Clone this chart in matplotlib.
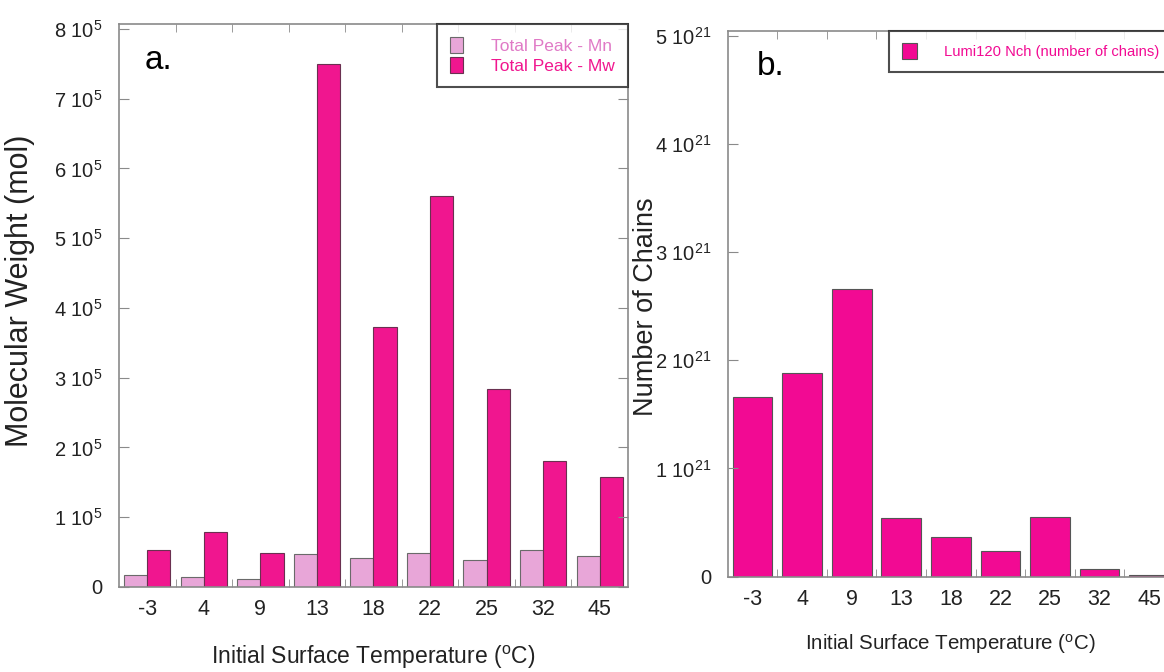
import matplotlib
matplotlib.use('Agg')
import matplotlib.pyplot as plt
import numpy as np
from matplotlib.ticker import FixedLocator, FuncFormatter

plt.rcParams['font.family'] = ['Liberation Sans', 'DejaVu Sans']
plt.rcParams['mathtext.fontset'] = 'custom'
plt.rcParams['mathtext.rm'] = 'Liberation Sans'
plt.rcParams['mathtext.it'] = 'Liberation Sans'

# datos
temps = ['-3', '4', '9', '13', '18', '22', '25', '32', '45']
mn = [17e3, 15e3, 12e3, 47e3, 42e3, 49e3, 38e3, 53e3, 44e3]
mw = [53.5e3, 79e3, 49e3, 750e3, 373e3, 561e3, 284e3, 181e3, 158e3]
nch = [1.66e21, 1.88e21, 2.66e21, 0.545e21, 0.37e21, 0.235e21, 0.555e21, 0.068e21, 0.016e21]

c_mn = '#E8A6D8'
c_mw = '#F0168F'
c_nch = '#F20A93'
gris = '#8a8a8a'

fig = plt.figure(figsize=(11.64, 6.72), dpi=100)

def estilo(ax, n):
    for s in ax.spines.values():
        s.set_color(gris)
        s.set_linewidth(1.2)
    ax.set_xlim(-0.5, n - 0.5)
    ax.set_xticks(np.arange(n))
    ax.xaxis.set_minor_locator(FixedLocator(np.arange(n - 1) + 0.5))
    ax.tick_params(axis='x', which='major', length=0, labelsize=15.5, pad=9, colors='#222222')
    ax.tick_params(axis='x', which='minor', direction='in', length=6, color=gris,
                   top=True, bottom=True)
    ax.tick_params(axis='y', direction='in', length=7, color=gris, labelsize=14.5,
                   right=True, pad=12, labelcolor='#222222')

# panel a
ax1 = fig.add_axes([0.1022, 0.1265, 0.4373, 0.8378])
x = np.arange(len(temps))
w = 0.41
ax1.bar(x - w / 2, mn, w, color=c_mn, edgecolor='#6a6a6a', linewidth=0.8, label='Total Peak - Mn')
ax1.bar(x + w / 2, mw, w, color=c_mw, edgecolor='#6a3050', linewidth=0.8, label='Total Peak - Mw')
estilo(ax1, len(temps))
ax1.set_xticklabels(temps)
ax1.set_ylim(0, 8.07e5)
ax1.set_yticks(np.arange(0, 9) * 1e5)
ax1.yaxis.set_major_formatter(FuncFormatter(
    lambda v, p: '0' if v == 0 else '%d 10$^{5}$' % round(v / 1e5)))
ax1.set_ylabel('Molecular Weight (mol)', fontsize=22, color='#222222')
ax1.yaxis.set_label_coords(-0.165, 0.526)
ax1.set_xlabel('Initial Surface Temperature ($^{\\rm o}$C)', fontsize=16.5, labelpad=17,
               color='#222222')
ax1.text(0.05, 0.935, 'a.', transform=ax1.transAxes, fontsize=24, va='center')
leg1 = ax1.legend(loc='upper right', bbox_to_anchor=(1, 1), borderaxespad=0,
                  frameon=True, fancybox=False, fontsize=12.5, handlelength=0.8,
                  handleheight=1.0, handletextpad=1.6, borderpad=0.75,
                  labelspacing=0.2)
leg1.get_frame().set_edgecolor('#222222')
leg1.get_frame().set_linewidth(1.5)
leg1.get_texts()[0].set_color('#E07AC6')
leg1.get_texts()[1].set_color(c_mw)

# panel b
ax2 = fig.add_axes([0.6252, 0.1418, 0.3834, 0.8121])
ax2.bar(x, nch, 0.8, color=c_nch, edgecolor='#555555', linewidth=0.8,
        label='Lumi120 Nch (number of chains)')
estilo(ax2, len(temps))
ax2.set_xticklabels(temps)
ax2.set_ylim(0, 5.043e21)
ax2.set_yticks(np.arange(0, 6) * 1e21)
ax2.yaxis.set_major_formatter(FuncFormatter(
    lambda v, p: '0' if v == 0 else '%d 10$^{21}$' % round(v / 1e21)))
ax2.set_ylabel('Number of Chains', fontsize=19.5, color='#222222')
ax2.yaxis.set_label_coords(-0.155, 0.494)
ax2.set_xlabel('Initial Surface Temperature ($^{\\rm o}$C)', fontsize=14.8, labelpad=16,
               color='#222222')
ax2.text(0.065, 0.935, 'b.', transform=ax2.transAxes, fontsize=24, va='center')
leg2 = ax2.legend(loc='upper left', bbox_to_anchor=(0.362, 1), borderaxespad=0,
                  frameon=True, fancybox=False, fontsize=10.6, handlelength=1.0,
                  handleheight=1.2, handletextpad=1.9, borderpad=0.85)
leg2.get_frame().set_edgecolor('#222222')
leg2.get_frame().set_linewidth(1.5)
leg2.get_texts()[0].set_color(c_nch)

fig.savefig('out.png', dpi=100)
